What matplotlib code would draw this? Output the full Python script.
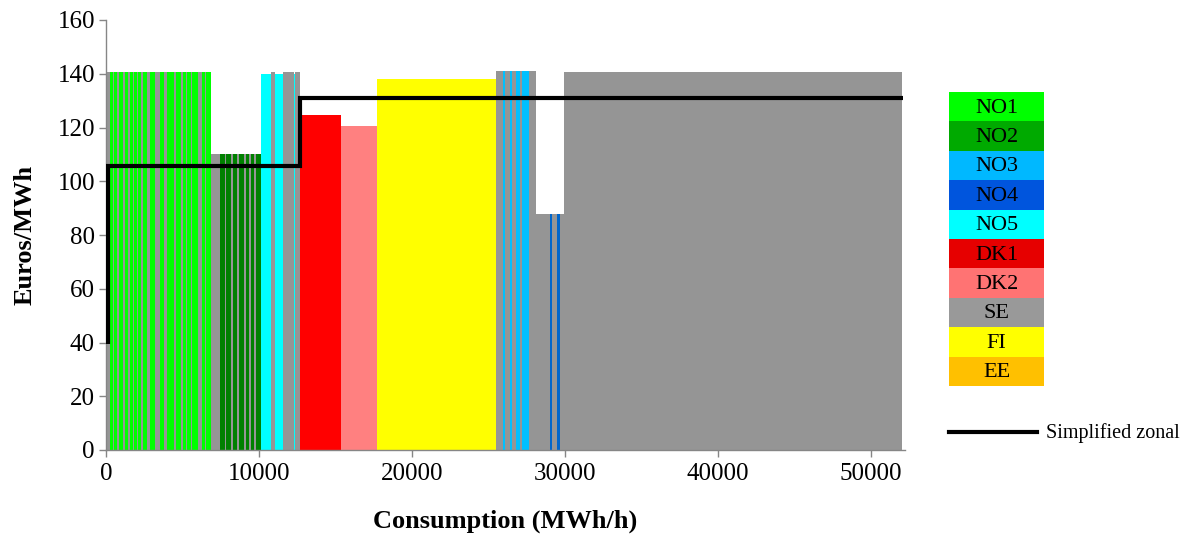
import numpy as np
import matplotlib
matplotlib.use("Agg")
import matplotlib.pyplot as plt
from matplotlib.patches import Rectangle
from matplotlib.lines import Line2D

plt.rcParams['font.family'] = ['Liberation Serif', 'DejaVu Serif']

# Supply curve: each block is (zone, price in EUR/MWh, volume in MWh/h), in merit order
block_zones = (
    ["EE", "SE"]
    + ["SE", "NO1"] * 17
    + ["SE", "NO2"] * 7
    + ["NO5", "SE", "NO5", "SE", "NO5", "SE"]
    + ["DK1", "DK2", "FI"]
    + ["SE", "NO3"] * 4 + ["SE"]
    + ["SE", "NO4", "SE", "NO4", "SE"]
    + ["SE", "SE", "SE", "SE"]
)
block_prices = (
    [36.0, 140.5]
    + [140.5] * 34
    + [110.0] * 14
    + [140.0, 140.5, 140.0, 140.5, 140.0, 140.5]
    + [124.5, 120.5, 138.0]
    + [141.0] * 9
    + [88.0] * 5
    + [140.5, 140.7, 140.5, 140.5]
)
block_volumes = (
    [60, 70]
    + [130, 195, 65, 195, 130, 260, 130, 195, 130, 195, 65, 195, 65, 195,
       130, 260, 195, 325, 325, 260, 195, 460, 130, 325, 130, 195, 65, 260,
       65, 390, 260, 195, 65, 325]
    + [590, 325, 130, 325, 130, 260, 130, 325, 130, 195, 130, 195, 130, 325]
    + [650, 260, 520, 720, 65, 325]
    + [2680, 2350, 7780]
    + [455, 130, 325, 130, 260, 260, 130, 455, 455]
    + [915, 130, 325, 195, 260]
    + [9800, 1300, 7600, 3390]
)

# Simplified zonal price curve
zonal_x = [130, 130, 12680, 12680, 52100]
zonal_y = [39.5, 105.5, 105.5, 131.0, 131.0]

zones = ["NO1", "NO2", "NO3", "NO4", "NO5", "DK1", "DK2", "SE", "FI", "EE"]
bar_colors = {
    "NO1": "#00FF00", "NO2": "#008000", "NO3": "#00C0FF", "NO4": "#0066CC",
    "NO5": "#00FFFF", "DK1": "#FF0000", "DK2": "#FF8080", "SE": "#959595",
    "FI": "#FFFF00", "EE": "#FFC000",
}
legend_colors = {
    "NO1": "#00FF00", "NO2": "#00AA00", "NO3": "#00B8FF", "NO4": "#0055DD",
    "NO5": "#00FFFF", "DK1": "#E60000", "DK2": "#FF7373", "SE": "#999999",
    "FI": "#FFFF00", "EE": "#FFC000",
}

W, H = 1190, 534
fig = plt.figure(figsize=(W / 100, H / 100), dpi=100)
ax = fig.add_axes([106 / W, 1 - 450 / H, (904.7 - 106) / W, (450 - 20) / H])

lefts = np.concatenate([[0], np.cumsum(block_volumes)[:-1]])
ax.bar(lefts, block_prices, width=block_volumes, align="edge",
       color=[bar_colors[z] for z in block_zones], linewidth=0,
       antialiased=False, zorder=2)

ax.plot(zonal_x, zonal_y, color="black", lw=3.0, solid_capstyle="butt",
        solid_joinstyle="miter", zorder=3)

ax.set_xlim(0, 52200)
ax.set_ylim(0, 160)
ax.set_xticks(np.arange(0, 50001, 10000))
ax.set_yticks(np.arange(0, 161, 20))
for s in ("top", "right"):
    ax.spines[s].set_visible(False)
for s in ("left", "bottom"):
    ax.spines[s].set_color("#868686")
    ax.spines[s].set_linewidth(1.0)
ax.tick_params(axis="both", direction="out", length=5, width=1.0,
               color="#868686", labelsize=18, pad=3)
ax.tick_params(axis="x", pad=4)

ax.set_xlabel("Consumption (MWh/h)", fontsize=19, fontweight="bold", labelpad=18)
ax.set_ylabel("Euros/MWh", fontsize=19, fontweight="bold", labelpad=15)

# Zone colour key
lax = fig.add_axes([949 / W, 1 - 386 / H, 95 / W, (386 - 92) / H])
lax.set_xlim(0, 1)
lax.set_ylim(0, len(zones))
lax.axis("off")
for i, z in enumerate(zones):
    y0 = len(zones) - 1 - i
    lax.add_patch(Rectangle((0, y0), 1, 1, facecolor=legend_colors[z],
                            edgecolor="none"))
    lax.text(0.5, y0 + 0.45, z, ha="center", va="center", fontsize=16,
             color="black")

fig.add_artist(Line2D([949 / W, 1037 / W], [1 - 432 / H, 1 - 432 / H],
                      color="black", lw=3.0, transform=fig.transFigure))
fig.text(1046 / W, 1 - 433 / H, "Simplified zonal", ha="left", va="center",
         fontsize=14.5)

fig.savefig("out.png", dpi=100)
